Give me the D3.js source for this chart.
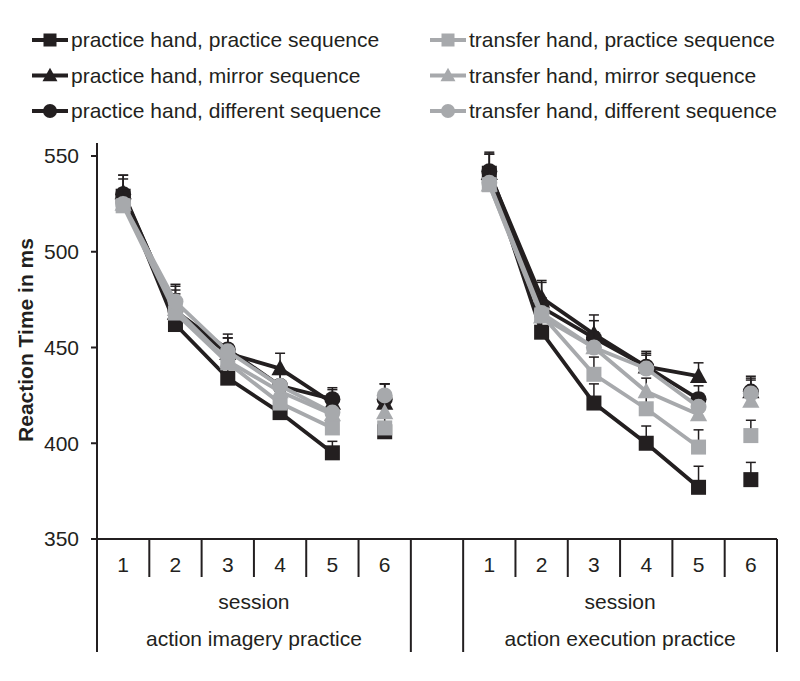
<!DOCTYPE html>
<html><head><meta charset="utf-8">
<script src="https://cdn.jsdelivr.net/npm/d3@7"></script>
<style>body{margin:0;background:#fff}text{font-family:"Liberation Sans",Arial,sans-serif;fill:#231f20}</style>
</head><body><svg id="c" width="800" height="681"></svg>
<script>
// ---- data ----
const sessions = ["1","2","3","4","5","6"];
const blocks = ["action imagery practice","action execution practice"];
const axisTitle = "session";
const yTicks = [350,400,450,500,550];
const seriesNames = [
  "practice hand, practice sequence","practice hand, mirror sequence","practice hand, different sequence",
  "transfer hand, practice sequence","transfer hand, mirror sequence","transfer hand, different sequence"];
const seriesShapes = ["square","triangle","circle","square","triangle","circle"];
const seriesTone = ["dark","dark","dark","light","light","light"];
// mean RT per session (imagery block, execution block)
const phPsImag = [529,462,434,416,395,406], phPsExec = [541,458,421,400,377,381];
const phMsImag = [531,468,447,439,421,421], phMsExec = [541,476,457,440,435,427];
const phDsImag = [530,469,449,430,423,423], phDsExec = [542,471,455,440,423,427];
const thPsImag = [524,468,442,421,408,408], thPsExec = [535,467,436,418,398,404];
const thMsImag = [525,470,443,427,415,416], thMsExec = [535,466,450,427,415,422];
const thDsImag = [525,474,448,430,416,425], thDsExec = [536,468,450,439,419,426];
// standard errors
const phPsImagErr = [9,8,7,7,6,5], phPsExecErr = [10,8,10,9,11,9];
const phMsImagErr = [9,12,8,8,7,10], phMsExecErr = [10,9,10,8,7,8];
const phDsImagErr = [10,14,8,7,6,8], phDsExecErr = [10,13,9,7,7,7];
const thPsImagErr = [8,8,6,6,6,6], thPsExecErr = [9,8,9,8,9,8];
const thMsImagErr = [8,8,6,6,6,6], thMsExecErr = [9,8,8,7,7,7];
const thDsImagErr = [8,8,7,6,6,6], thDsExecErr = [9,8,8,7,7,7];

const imagVals = [phPsImag,phMsImag,phDsImag,thPsImag,thMsImag,thDsImag];
const execVals = [phPsExec,phMsExec,phDsExec,thPsExec,thMsExec,thDsExec];
const imagErrs = [phPsImagErr,phMsImagErr,phDsImagErr,thPsImagErr,thMsImagErr,thDsImagErr];
const execErrs = [phPsExecErr,phMsExecErr,phDsExecErr,thPsExecErr,thMsExecErr,thDsExecErr];

// ---- drawing ----
const DARK="#231f20", LIGHT="#a7a9ac";
const svg = d3.select("#c");
const slots = [...sessions.map(s=>"I"+s),"gap",...sessions.map(s=>"E"+s)];
const x = d3.scaleBand().domain(slots).range([97,777]).padding(0);
const bw = x.bandwidth();
const cx = k => x(k)+bw/2;
const y = d3.scaleLinear().domain([350,550]).range([539,156]);

// axes
const g = svg.append("g");
g.append("line").attr("x1",97).attr("x2",97).attr("y1",143).attr("y2",652).attr("stroke",DARK).attr("stroke-width",2);
g.append("line").attr("x1",91).attr("x2",777).attr("y1",y(350)).attr("y2",y(350)).attr("stroke",DARK).attr("stroke-width",2);
yTicks.forEach(t=>{
  g.append("line").attr("x1",91).attr("x2",97).attr("y1",y(t)).attr("y2",y(t)).attr("stroke",DARK).attr("stroke-width",2);
  g.append("text").attr("x",79).attr("y",y(t)).attr("dy","0.35em").attr("text-anchor","end").attr("font-size",21).text(t);
});
g.append("text").attr("transform","translate(33,340) rotate(-90)").attr("text-anchor","middle")
  .attr("font-size",21).attr("font-weight","bold").text("Reaction Time in ms");

// category dividers
slots.forEach((k,i)=>{
  if(i===0) return;
  const long = (k==="gap"||slots[i-1]==="gap");
  g.append("line").attr("x1",x(k)).attr("x2",x(k)).attr("y1",539).attr("y2",long?652:577).attr("stroke",DARK).attr("stroke-width",2);
});
g.append("line").attr("x1",777).attr("x2",777).attr("y1",539).attr("y2",652).attr("stroke",DARK).attr("stroke-width",2);
["I","E"].forEach((p,bi)=>{
  sessions.forEach(s=>{
    g.append("text").attr("x",cx(p+s)).attr("y",565).attr("dy","0.35em").attr("text-anchor","middle").attr("font-size",21).text(s);
  });
  const mid = (x(p+"1")+x(p+"6")+bw)/2;
  g.append("text").attr("x",mid).attr("y",602).attr("dy","0.35em").attr("text-anchor","middle").attr("font-size",21).text(axisTitle);
  g.append("text").attr("x",mid).attr("y",639).attr("dy","0.35em").attr("text-anchor","middle").attr("font-size",21).text(blocks[bi]);
});

function marker(sel, shape, color, size){
  if(shape==="square") return sel.append("rect").attr("x",-size/2).attr("y",-size/2).attr("width",size).attr("height",size).attr("fill",color);
  if(shape==="circle") return sel.append("circle").attr("r",size/2+0.5).attr("fill",color);
  const h=size*1.0, w=size*1.15;
  return sel.append("path").attr("d",`M0,${-h*0.6}L${w/2},${h*0.45}L${-w/2},${h*0.45}Z`).attr("fill",color);
}

const plot = svg.append("g");
const line = d3.line().x(d=>d[0]).y(d=>d[1]);
seriesNames.forEach((name,si)=>{
  const col = seriesTone[si]==="dark"?DARK:LIGHT;
  [["I",imagVals[si],imagErrs[si]],["E",execVals[si],execErrs[si]]].forEach(([p,vals,errs])=>{
    const gs = plot.append("g");
    vals.forEach((v,i)=>{
      const px=cx(p+sessions[i]);
      gs.append("line").attr("x1",px).attr("x2",px).attr("y1",y(v)).attr("y2",y(v+errs[i])).attr("stroke",DARK).attr("stroke-width",1.5);
      gs.append("line").attr("x1",px-5).attr("x2",px+5).attr("y1",y(v+errs[i])).attr("y2",y(v+errs[i])).attr("stroke",DARK).attr("stroke-width",1.5);
    });
    const pts = vals.slice(0,5).map((v,i)=>[cx(p+sessions[i]),y(v)]);
    gs.append("path").attr("d",line(pts)).attr("fill","none").attr("stroke",col).attr("stroke-width",3.8);
    vals.forEach((v,i)=>{
      const m = gs.append("g").attr("transform",`translate(${cx(p+sessions[i])},${y(v)})`);
      marker(m, seriesShapes[si], col, 15);
    });
  });
});

// legend
const legX = [32,430], legY = [40,75.5,111];
seriesNames.forEach((name,si)=>{
  const col = seriesTone[si]==="dark"?DARK:LIGHT;
  const lx = legX[Math.floor(si/3)], ly = legY[si%3];
  const lg = svg.append("g").attr("transform",`translate(${lx},${ly})`);
  lg.append("line").attr("x1",0).attr("x2",36).attr("y1",0).attr("y2",0).attr("stroke",col).attr("stroke-width",3.8);
  marker(lg.append("g").attr("transform","translate(18,0)"), seriesShapes[si], col, 13);
  lg.append("text").attr("x",39).attr("y",0).attr("dy","0.35em").attr("font-size",21).text(name);
});
</script></body></html>
